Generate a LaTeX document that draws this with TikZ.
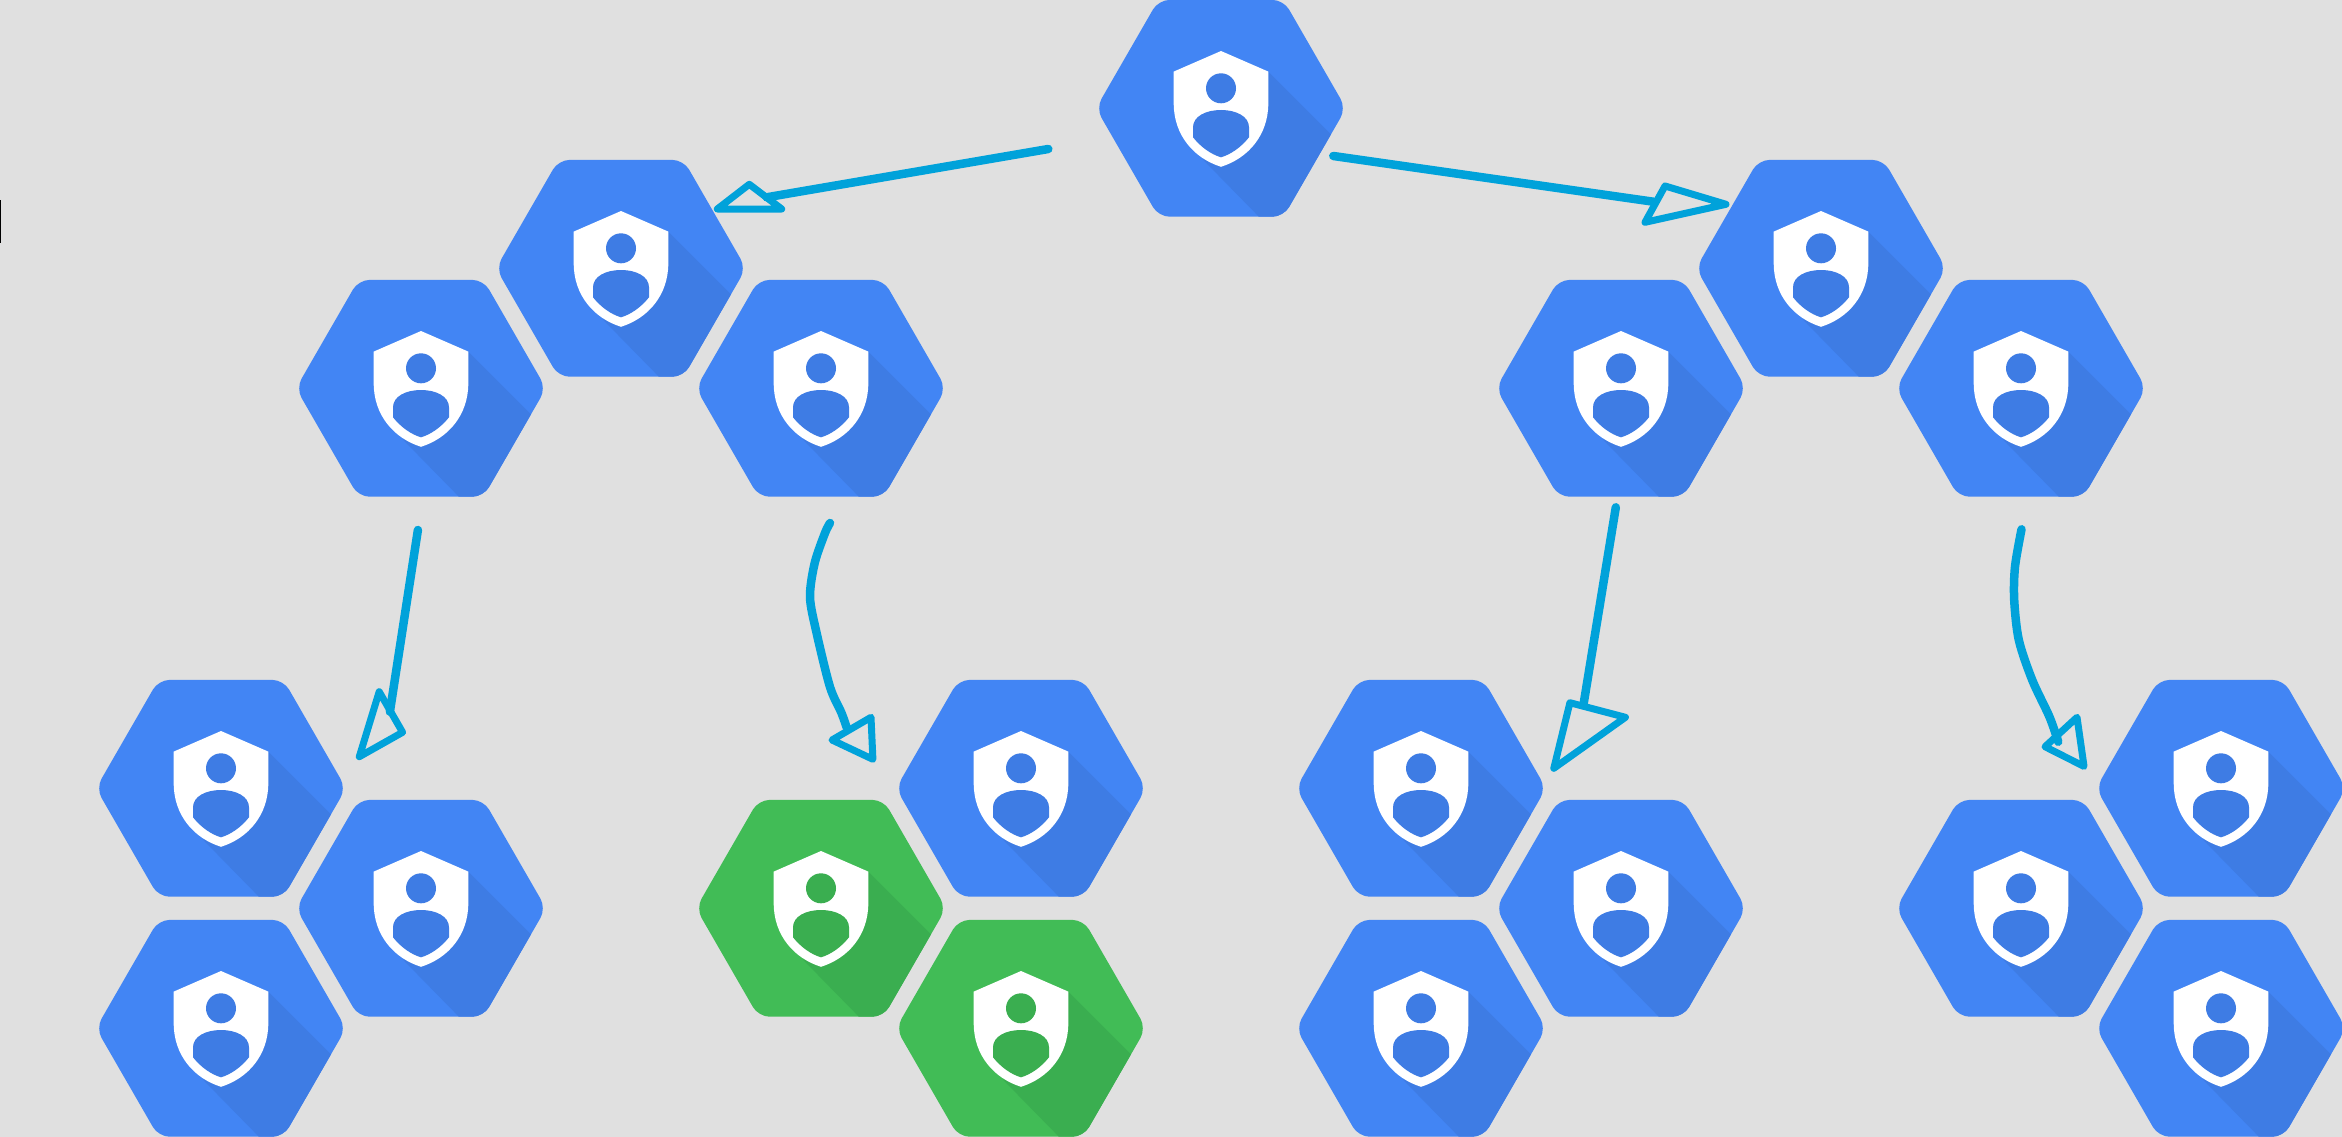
\documentclass[tikz,border=0pt]{standalone}
\usepackage{tikz}

\definecolor{pageGray}{HTML}{E0E0E0}
\definecolor{hexBlue}{HTML}{4285F4}
\definecolor{hexBlueDark}{HTML}{3E7CE4}
\definecolor{hexGreen}{HTML}{41BC56}
\definecolor{hexGreenDark}{HTML}{3AAE50}
\definecolor{sketchBlue}{HTML}{00A2DA}

\newcommand{\hexoutline}{(-125,0) -- (-62.5,-108.4) -- (62.5,-108.4) -- (125,0) -- (62.5,108.4) -- (-62.5,108.4) -- cycle}

\tikzset{
    sketchline/.style={draw=sketchBlue, line width=8.5pt, line cap=round, line join=round},
    sketchhead/.style={draw=sketchBlue, line width=7pt, line cap=round, line join=round},
    pics/adminhex/.style 2 args={code={
        \fill[#1, rounded corners=11pt] \hexoutline;
        % long shadow
        \begin{scope}
            \clip[rounded corners=11pt] \hexoutline;
            \fill[#2] (47.3,-36.7) -- (150,66) -- (150,131) -- (60,131) -- (-17.7,51.7) -- cycle;
        \end{scope}
        % shield
        \fill[white] (0,-57.3) -- (47.3,-36.7) -- (47.3,-5)
            .. controls (47.3,27) and (27,50) .. (0,58.5)
            .. controls (-27,50) and (-47.3,27) .. (-47.3,-5) -- (-47.3,-36.7) -- cycle;
        % person
        \fill[#2] (0,-20) circle[radius=15pt];
        \fill[#2] (0,1.7) .. controls (15,1.7) and (28,8) .. (28,19) -- (28,29)
            .. controls (20,39) and (10,46) .. (0,49)
            .. controls (-10,46) and (-20,39) .. (-28,29) -- (-28,19)
            .. controls (-28,8) and (-15,1.7) .. (0,1.7) -- cycle;
    }}
}

\begin{document}
\begin{tikzpicture}[x=1pt, y=-1pt]
    % 1. page
    \fill[pageGray] (0,0) rectangle (2342,1137);
    \useasboundingbox (0,0) rectangle (2342,1137);
    \draw[black, line width=1pt] (0.5,200) -- (0.5,243);

    % 2. hexagon centres
    \coordinate (HexRoot) at (1221,108.3);
    \coordinate (HexUpL) at (621,268.3);
    \coordinate (HexUpLa) at (421,388.3);
    \coordinate (HexUpLb) at (821,388.3);
    \coordinate (HexUpR) at (1821,268.3);
    \coordinate (HexUpRa) at (1621,388.3);
    \coordinate (HexUpRb) at (2021,388.3);
    \coordinate (HexA1) at (221,788.3);
    \coordinate (HexA2) at (421,908.3);
    \coordinate (HexA3) at (221,1028.3);
    \coordinate (HexB1) at (1021,788.3);
    \coordinate (HexB2) at (821,908.3);
    \coordinate (HexB3) at (1021,1028.3);
    \coordinate (HexC1) at (1421,788.3);
    \coordinate (HexC2) at (1621,908.3);
    \coordinate (HexC3) at (1421,1028.3);
    \coordinate (HexD1) at (2221,788.3);
    \coordinate (HexD2) at (2021,908.3);
    \coordinate (HexD3) at (2221,1028.3);

    % 3. hexagons
    \foreach \hexname in {HexRoot,HexUpL,HexUpLa,HexUpLb,HexUpR,HexUpRa,HexUpRb,
        HexA1,HexA2,HexA3,HexB1,HexC1,HexC2,HexC3,HexD1,HexD2,HexD3}
        \pic at (\hexname) {adminhex={hexBlue}{hexBlueDark}};
    \foreach \hexname in {HexB2,HexB3}
        \pic at (\hexname) {adminhex={hexGreen}{hexGreenDark}};

    % 4. hand drawn arrows: start, end of shaft, three corners of the head
    \coordinate (ArrLs) at (1048.3,149);
    \coordinate (ArrLe) at (766.7,197.3);
    \coordinate (ArrLa) at (749.3,184.3);
    \coordinate (ArrLb) at (717.3,209);
    \coordinate (ArrLc) at (781.7,209);
    \draw[sketchline] (ArrLs) -- (ArrLe);
    \draw[sketchhead] (ArrLa) -- (ArrLb) -- (ArrLc) -- cycle;

    \coordinate (ArrRs) at (1333.3,156);
    \coordinate (ArrRe) at (1653.3,201.7);
    \coordinate (ArrRa) at (1665,186);
    \coordinate (ArrRb) at (1726,204.3);
    \coordinate (ArrRc) at (1645,222.3);
    \draw[sketchline] (ArrRs) -- (ArrRe);
    \draw[sketchhead] (ArrRa) -- (ArrRb) -- (ArrRc) -- cycle;

    \coordinate (ArrAs) at (417.9,530);
    \coordinate (ArrAe) at (389.9,711.7);
    \coordinate (ArrAa) at (379.2,691.7);
    \coordinate (ArrAb) at (402.6,732.3);
    \coordinate (ArrAc) at (359.3,756.7);
    \draw[sketchline] (ArrAs) -- (ArrAe);
    \draw[sketchhead] (ArrAa) -- (ArrAb) -- (ArrAc) -- cycle;

    % curved one towards the green pair
    \coordinate (ArrBs) at (830,523);
    \coordinate (ArrBe) at (846.5,727);
    \coordinate (ArrBa) at (871,717.3);
    \coordinate (ArrBb) at (832,740);
    \coordinate (ArrBc) at (872.9,759.3);
    \draw[sketchline] plot[smooth] coordinates {(ArrBs) (825,533) (814.7,563) (810,597) (816.6,633) (830,687) (841.5,713) (ArrBe)};
    \draw[sketchhead] (ArrBa) -- (ArrBb) -- (ArrBc) -- cycle;

    \coordinate (ArrCs) at (1615.8,507.3);
    \coordinate (ArrCe) at (1583.7,703.3);
    \coordinate (ArrCa) at (1569.9,702.7);
    \coordinate (ArrCb) at (1625.4,717.3);
    \coordinate (ArrCc) at (1553.8,768.3);
    \draw[sketchline] (ArrCs) -- (ArrCe);
    \draw[sketchhead] (ArrCa) -- (ArrCb) -- (ArrCc) -- cycle;

    \coordinate (ArrDs) at (2021.5,529.3);
    \coordinate (ArrDe) at (2058.2,741.7);
    \coordinate (ArrDa) at (2077,717.3);
    \coordinate (ArrDb) at (2045,746.7);
    \coordinate (ArrDc) at (2084,766.4);
    \draw[sketchline] plot[smooth] coordinates {(ArrDs) (2015,566.7) (2014.2,600) (2018.8,640) (2032.2,680) (2049.4,716.7) (ArrDe)};
    \draw[sketchhead] (ArrDa) -- (ArrDb) -- (ArrDc) -- cycle;
\end{tikzpicture}
\end{document}
